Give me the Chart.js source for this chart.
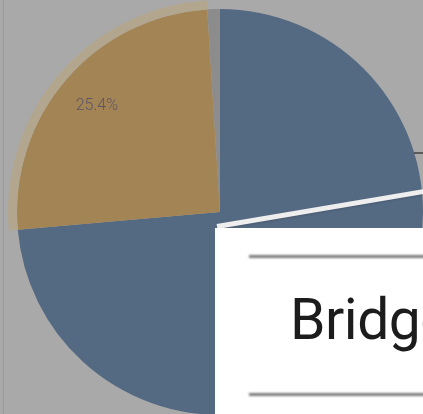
<!DOCTYPE html>
<html>
<head>
<meta charset="utf-8">
<script src="https://cdn.jsdelivr.net/npm/chart.js@4.4.1/dist/chart.umd.min.js"></script>
<style>
  html, body { margin:0; padding:0; }
  body { width:423px; height:414px; overflow:hidden; background:#a9a9a9; position:relative; font-family:Roboto, 'DejaVu Sans', sans-serif; }
  .edge { position:absolute; left:3px; top:0; width:1px; height:414px; background:#9b9b9b; }
  #pieChart { position:absolute; left:8px; top:0; }
  .leader { position:absolute; left:414px; top:152px; width:12px; height:2px; background:#5a5a5a; }
  .callout { position:absolute; left:217px; top:224px; width:215px; height:5px; background:#eeeeee;
    transform-origin:0 50%; transform:rotate(-9.6deg); box-shadow:0 1px 2px rgba(0,0,0,0.15); }
  .tip { position:absolute; left:215px; top:228px; width:260px; height:200px; background:#fff; overflow:hidden; }
  .tip .rule { position:absolute; left:34px; right:0; height:3px; background:#7a7a7a; filter:blur(0.8px); }
  .tip .name { position:absolute; left:75px; top:58px; font-size:57px; color:#1c1c1c; white-space:nowrap; letter-spacing:-0.5px; }
</style>
</head>
<body>
<div class="edge"></div>
<canvas id="pieChart" width="424" height="424"></canvas>
<div class="leader"></div>
<div class="callout"></div>
<div class="tip">
  <div class="rule" style="top:27px"></div>
  <div class="name">Bridges</div>
  <div class="rule" style="top:165px"></div>
</div>
<script>
const categories  = ['Bridges', 'Culverts', 'Other'];
const shareValues = [73.6, 25.4, 1.0];
const sliceColors = ['#546982', '#a38555', '#8c8c8c'];
const ringColors  = ['rgba(0,0,0,0)', '#b3a68f', 'rgba(0,0,0,0)'];

// percent labels inside the slices, like the original datalabels
const pctLabels = {
  id: 'pctLabels',
  afterDatasetsDraw(chart) {
    const meta = chart.getDatasetMeta(1);
    const ctx = chart.ctx;
    const total = shareValues.reduce((a, b) => a + b, 0);
    ctx.save();
    ctx.font = '300 16px Roboto';
    ctx.fillStyle = '#5e5468';
    ctx.textAlign = 'center';
    ctx.textBaseline = 'middle';
    meta.data.forEach((arc, i) => {
      const pct = shareValues[i] / total * 100;
      if (pct < 5) return;
      const mid = (arc.startAngle + arc.endAngle) / 2;
      const r = arc.outerRadius * 0.8;
      ctx.fillText(pct.toFixed(1) + '%', arc.x + Math.cos(mid) * r, arc.y + Math.sin(mid) * r);
    });
    ctx.restore();
  }
};

new Chart(document.getElementById('pieChart').getContext('2d'), {
  type: 'pie',
  data: {
    labels: categories,
    datasets: [
      { data: shareValues, backgroundColor: ringColors, borderWidth: 0, weight: 9 },
      { data: shareValues, backgroundColor: sliceColors, borderWidth: 0, weight: 203 }
    ]
  },
  options: {
    responsive: false,
    animation: false,
    hoverOffset: 0,
    layout: { padding: 0 },
    plugins: { legend: { display: false }, tooltip: { enabled: false } }
  },
  plugins: [pctLabels]
});
</script>
</body>
</html>
